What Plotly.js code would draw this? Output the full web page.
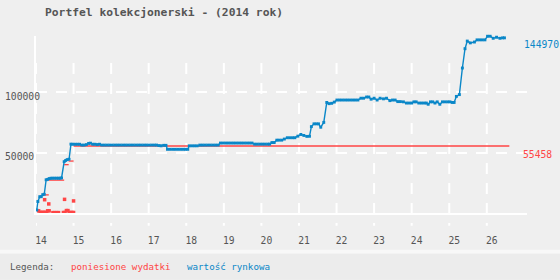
<!DOCTYPE html>
<html><head><meta charset="utf-8">
<script src="https://cdn.plot.ly/plotly-3.0.1.min.js"></script>
<style>html,body{margin:0;padding:0;background:#efefef;} #chart{width:560px;height:280px;}</style>
</head><body><div id="chart"></div>
<script>
// ---- data ----
const marketDays = [14.02,14.05,14.10,14.14,14.18,14.22,14.27,14.31,14.35,14.40,14.45,14.50,14.55,14.60,14.64,14.68,
 14.75,14.79,14.83,14.88,14.93,14.98,15.04,15.10,15.16,15.22,15.28,15.34,15.40,15.45,15.51,15.57,15.63,15.69,15.75,
 15.82,15.89,15.96,16.03,16.10,16.17,16.24,16.31,16.38,16.45,16.52,16.59,16.66,16.73,16.80,16.87,16.94,17.01,17.08,17.15,17.21,
 17.27,17.33,17.40,17.46,17.50,17.57,17.64,17.71,17.78,17.85,17.92,17.98,18.04,
 18.08,18.15,18.22,18.29,18.36,18.43,18.50,18.57,18.64,18.71,18.78,18.85,
 18.91,18.98,19.05,19.12,19.19,19.26,19.33,19.40,19.47,19.54,19.61,19.68,19.75,
 19.82,19.89,19.96,20.03,20.10,20.17,20.22,20.28,20.34,20.41,20.47,20.54,20.61,20.69,20.76,20.83,20.89,20.97,21.05,21.13,21.21,21.28,
 21.33,21.40,21.46,21.52,21.58,21.66,21.74,21.80,21.87,21.94,
 22.01,22.08,22.15,22.22,22.29,22.36,22.43,22.50,22.57,22.65,22.72,22.80,22.86,22.92,23.00,23.08,23.16,23.25,23.33,23.42,23.49,23.56,
 23.63,23.70,23.78,23.86,23.93,24.00,24.06,24.12,24.19,24.26,24.33,24.39,24.44,24.50,24.56,24.62,24.68,24.75,24.82,24.89,24.96,25.02,
 25.08,25.13,25.19,25.27,25.35,25.42,25.48,25.56,25.67,25.74,25.81,25.88,25.95,26.02,26.09,26.17,26.26,26.35,26.42,26.47];
const marketValues = [2500,9500,13500,13500,15200,15500,27500,27800,28500,28800,28800,28800,28800,28800,28800,29000,
 42500,43500,44200,44500,57000,56900,56900,56900,56900,56200,56200,56600,57600,57800,56900,56900,56600,56900,56200,
 56200,56200,56200,56200,56200,56200,56200,56200,56200,56200,56200,56200,56200,56200,56200,56200,56200,56200,56200,56200,56200,
 55800,55600,56000,56000,52700,52700,52700,52700,52700,52700,52700,52700,52700,
 55600,55600,55600,55600,56200,56200,56200,56200,56200,56200,56200,56200,
 57900,57900,57900,57900,57900,57900,57900,57900,57900,57900,57900,57900,57900,
 57000,57000,57000,57000,57000,57000,57000,58300,58300,60300,60300,60300,61200,62300,62300,62300,62300,63600,65000,64200,63400,63500,
 71500,73800,73800,73800,71000,75000,91500,90500,90800,91800,
 93500,93500,93500,93500,93500,93500,93500,93500,93500,95000,95000,96000,96000,94200,95000,93500,95000,94500,95000,93000,93500,93500,
 92200,92200,92000,91000,91000,91000,92000,92000,91000,91000,91000,91000,90000,92000,92000,91000,92000,90000,92000,92000,92000,92000,
 91500,91500,96500,98000,120000,136000,142300,140800,141500,143300,143300,143300,143300,146300,146300,144600,145500,144600,144970,144970];

const expenseStepStart = [14.18, 14.34, 14.75, 14.87, 15.00];
const expenseStepEnd   = [14.34, 14.75, 14.87, 15.00, 26.60];
const expenseTotals    = [15000, 27200, 40000, 43000, 55458];

const purchaseDays   = [14.07,14.11,14.15,14.19,14.23,14.27,14.31,14.35,14.45,14.50,14.55,14.60,
                        14.73,14.77,14.81,14.85,14.89,14.93,14.97,15.00,14.23,14.34,14.76,15.00];
const purchaseValues = [1800,500,500,500,500,500,1800,1800,300,300,300,300,
                        400,400,2000,2000,400,400,400,400,11000,7500,11300,10000];

const xTickVals = [14,15,16,17,18,19,20,21,22,23,24,25,26];
const yTickVals = [50000, 100000];
const yTickText = ['50000', '100000'];
const titleText = 'Portfel kolekcjonerski - (2014 rok)';
const legendLabel = 'Legenda:';
const seriesNames = ['poniesione wydatki', 'wartość rynkowa'];

// ---- styling / geometry ----
const RED = '#ff4545', BLUE = '#0a87c8', GREY = '#555555', BG = '#efefef';
const MONO = 'DejaVu Sans Mono';
const PL = 36, PR = 527, PT = 36, PB = 213.3, W = 560, H = 280;
const px2x = p => (p - PL) / (PR - PL);
const px2y = p => (PB - p) / (PB - PT);

const redX = [], redY = [];
expenseStepStart.forEach((s, i) => {
  redX.push(s, expenseStepEnd[i], null);
  redY.push(expenseTotals[i], expenseTotals[i], null);
});

const traces = [
  {x: redX, y: redY, mode: 'lines', line: {color: RED, width: 1.3}, connectgaps: false, hoverinfo: 'skip', cliponaxis: false},
  {x: purchaseDays, y: purchaseValues, mode: 'markers', marker: {symbol: 'square', size: 3.5, color: RED}, cliponaxis: false},
  {x: marketDays, y: marketValues, mode: 'lines+markers', line: {color: BLUE, width: 1.4},
   marker: {symbol: 'square', size: 2.9, color: BLUE}, cliponaxis: false}
];

const shapes = [
  {type: 'rect', xref: 'paper', yref: 'paper', x0: px2x(0), x1: px2x(W), y0: px2y(250), y1: px2y(254),
   fillcolor: '#f8f8f8', line: {width: 0}, layer: 'below'},
  {type: 'rect', xref: 'paper', yref: 'paper', x0: px2x(0), x1: px2x(W), y0: px2y(254), y1: px2y(H),
   fillcolor: '#ececec', line: {width: 0}, layer: 'below'}
];
xTickVals.forEach(v => shapes.push({type: 'line', xref: 'x', yref: 'paper', x0: v, x1: v,
  y0: px2y(63), y1: px2y(226), line: {color: '#ffffff', width: 2, dash: '11px,9px'}, layer: 'below'}));

const annFont = (c, s) => ({family: MONO, size: s || 9.7, color: c});
const annotations = [];
yTickVals.forEach((v, i) => annotations.push({xref: 'paper', yref: 'y', x: px2x(2.5), y: v, xanchor: 'left', yanchor: 'middle',
  yshift: -4, text: yTickText[i], showarrow: false, font: annFont(GREY)}));
annotations.push({xref: 'paper', yref: 'y', x: px2x(522), y: marketValues[marketValues.length - 1], xanchor: 'left', yanchor: 'middle',
  yshift: -7, text: String(marketValues[marketValues.length - 1]), showarrow: false, font: annFont(BLUE)});
annotations.push({xref: 'paper', yref: 'y', x: px2x(521), y: expenseTotals[expenseTotals.length - 1], xanchor: 'left', yanchor: 'middle',
  yshift: -8, text: String(expenseTotals[expenseTotals.length - 1]), showarrow: false, font: annFont(RED)});
annotations.push({xref: 'paper', yref: 'paper', x: px2x(8), y: px2y(267), xanchor: 'left', yanchor: 'middle',
  text: legendLabel, showarrow: false, font: annFont(GREY, 9.2)});
annotations.push({xref: 'paper', yref: 'paper', x: px2x(69), y: px2y(267), xanchor: 'left', yanchor: 'middle',
  text: seriesNames[0], showarrow: false, font: annFont(RED, 9.2)});
annotations.push({xref: 'paper', yref: 'paper', x: px2x(185), y: px2y(267), xanchor: 'left', yanchor: 'middle',
  text: seriesNames[1], showarrow: false, font: annFont(BLUE, 9.2)});

const layout = {
  width: W, height: H,
  margin: {l: PL, r: W - PR, t: PT, b: H - PB, pad: 0},
  paper_bgcolor: BG, plot_bgcolor: BG,
  showlegend: false,
  title: {text: titleText, x: 45 / W, xanchor: 'left', y: 1 - 12.5 / H, yanchor: 'middle',
          font: {family: MONO, size: 11.3, color: GREY, weight: 'bold'}},
  xaxis: {range: [14, 27.07], tickvals: xTickVals, showgrid: false, zeroline: false,
          showline: true, linecolor: '#ffffff', linewidth: 2, ticks: '',
          tickfont: {family: MONO, size: 9.7, color: GREY}, ticklabelshift: 5, ticklabelstandoff: 17, fixedrange: true},
  yaxis: {range: [0, 146500], tickvals: yTickVals, showticklabels: false, showgrid: true,
          gridcolor: '#ffffff', gridwidth: 2, griddash: '11px,9px', zeroline: false,
          showline: true, linecolor: '#ffffff', linewidth: 2, ticks: '', fixedrange: true},
  shapes: shapes,
  annotations: annotations
};

Plotly.newPlot('chart', traces, layout, {displayModeBar: false, staticPlot: true});
</script>
</body></html>
